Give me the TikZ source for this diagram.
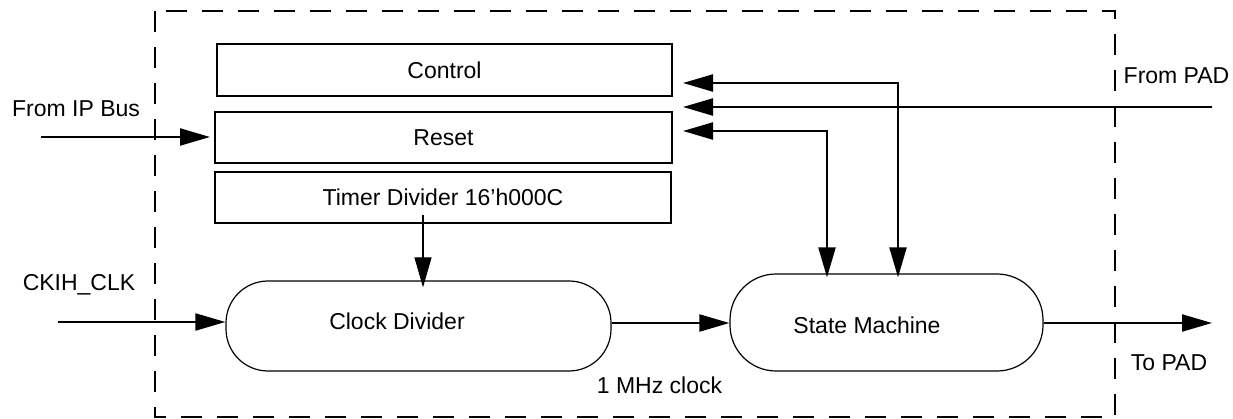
\documentclass[tikz,border=0pt]{standalone}
\usepackage{fontspec}
\setmainfont{Liberation Sans}
\usetikzlibrary{arrows.meta}
\begin{document}
\begin{tikzpicture}[x=1pt,y=-1pt,
  txt/.style={font=\fontsize{23}{27}\selectfont, text height=16.5pt, text depth=0pt, inner sep=0pt},
  blk/.style={txt, draw, line width=2pt, minimum height=51pt},
  stad/.style={draw, line width=1.2pt, inner sep=0pt},
  arr/.style={line width=2.2pt, -{Triangle[length=30pt,width=17pt]}},
  darr/.style={line width=2.2pt, {Triangle[length=30pt,width=17pt]}-{Triangle[length=30pt,width=17pt]}},
  thinarr/.style={line width=1.2pt, -{Triangle[length=30pt,width=17pt]}}]
\useasboundingbox (0,0) rectangle (1233,419);
\draw[line width=2pt, dash pattern=on 21pt off 15pt] (155,11) rectangle (1115,417);

\node[blk, minimum width=455pt, minimum height=52pt] (ctrl) at (444.5,70) {Control};
\node[blk, minimum width=457pt] (reset) at (443.5,137.5) {Reset};
\node[blk, minimum width=456pt] (timer) at (443,197.5) {Timer Divider 16’h000C};

\node[stad, rounded corners=42pt, minimum width=385pt, minimum height=90pt,
  label={[txt,xshift=-21.5pt,yshift=5pt]center:Clock Divider}] (cd) at (418.5,326) {};
\node[stad, rounded corners=46pt, minimum width=313pt, minimum height=97pt,
  label={[txt,xshift=-19.5pt,yshift=-2.5pt]center:State Machine}] (sm) at (886.5,322.5) {};

\node[txt] (ipb) at (76,108) {From IP Bus};
\node[txt] (ckl) at (79,282) {CKIH\_CLK};
\node[txt] (fpad) at (1176.5,75) {From PAD};
\node[txt] (tpad) at (1169,362) {To PAD};
\node[txt] (mhz) at (659.5,385) {1 MHz clock};

\coordinate (ipin) at (41,137);
\draw[arr, shorten >=4pt] (ipin) -- (ipin -| reset.west);
\coordinate (ckin) at (58,322);
\draw[arr] (ckin) -- (ckin -| cd.west);
\coordinate (mid) at (0,323);
\draw[arr] (cd.east |- mid) -- (sm.west |- mid);
\coordinate (tp) at (1212,323);
\draw[arr] (sm.east |- tp) -- (tp);

\coordinate (ts) at (423,215);
\draw[thinarr, shorten >=-7pt] (ts) -- (ts |- cd.north);

\coordinate (a1) at (683,83);
\coordinate (a2) at (683,107);
\coordinate (a3) at (683,131);
\coordinate (v1) at (898,0);
\coordinate (v2) at (827,0);
\coordinate (pad) at (1212,107);
\draw[arr] (pad) -- (a2);
\draw[darr, shorten <=-4pt] (v1 |- sm.north) |- (a1);
\draw[darr, shorten <=-4pt] (v2 |- sm.north) |- (a3);
\end{tikzpicture}
\end{document}
